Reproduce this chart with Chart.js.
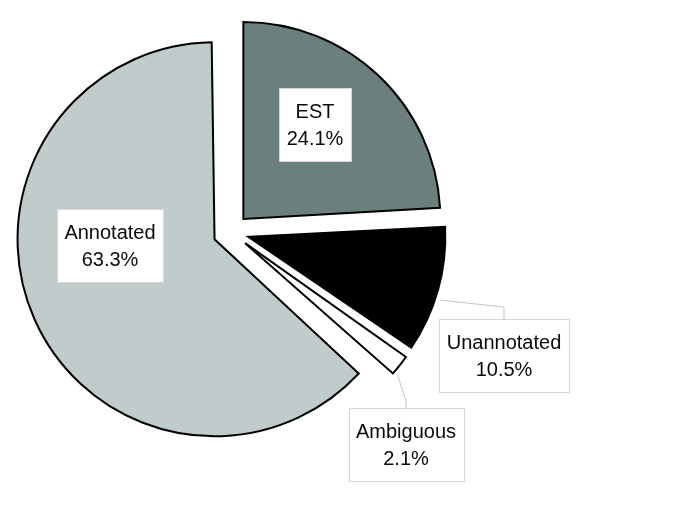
<!DOCTYPE html>
<html>
<head>
<meta charset="utf-8">
<script src="https://cdn.jsdelivr.net/npm/chart.js@4.4.1/dist/chart.umd.min.js"></script>
<style>
  html, body { margin: 0; padding: 0; background: #fff; }
  canvas { display: block; }
</style>
</head>
<body>
<canvas id="pie" width="685" height="524"></canvas>
<script>
// ── Data ───────────────────────────────────────────────────────
const categories = ['EST', 'Unannotated', 'Ambiguous', 'Annotated'];
const shares = [24.1, 10.5, 2.1, 63.3];
const sliceColors = ['#6b7f7f', '#000000', '#ffffff', '#c0cccc'];

// label box centre relative to pie centre (px) + leader elbow gap
const labelSpots = [[84, -108], [273, 123], [175, 212], [-121, 13]];
const leaderGap = [0, 12, 7, 0];

const PIE_R = 197;
const EXPLODE = 72;   // chart.js moves a slice by offset / 4
const LEADER_TURN = 0.045;  // leader starts a little past the bisector


// ── Keep every slice the same radius once exploded ─────────────
// (chart.js grows narrow exploded slices; undo that here)
const evenRadius = {
  id: 'evenRadius',
  afterDatasetsUpdate(chart) {
    chart.getDatasetMeta(0).data.forEach(arc => {
      const fix = 1 - Math.sin(Math.min(Math.PI, arc.circumference));
      arc.outerRadius = PIE_R - (EXPLODE / 4) * fix;
    });
  }
};


// ── Boxed labels with leader lines ─────────────────────────────
const labelBoxes = {
  id: 'labelBoxes',
  afterDatasetsDraw(chart) {
    const ctx = chart.ctx;
    const arcs = chart.getDatasetMeta(0).data;
    const total = shares.reduce((a, b) => a + b, 0);

    ctx.save();
    ctx.font = '20px "Liberation Sans", Arial, sans-serif';
    arcs.forEach((arc, i) => {
      const cx = arc.x + labelSpots[i][0];
      const cy = arc.y + labelSpots[i][1];
      const lines = [categories[i], (shares[i] / total * 100).toFixed(1) + '%'];
      const w = Math.round(Math.max(...lines.map(t => ctx.measureText(t).width)) + 15);
      const h = 73;
      const left = Math.round(cx - w / 2);
      const top = Math.round(cy - h / 2);

      if (leaderGap[i]) {
        const mid = (arc.startAngle + arc.endAngle) / 2;
        const shift = EXPLODE / 4;
        const ox = arc.x + Math.cos(mid) * shift;
        const oy = arc.y + Math.sin(mid) * shift;
        const a = mid + LEADER_TURN;
        ctx.beginPath();
        ctx.moveTo(ox + Math.cos(a) * (PIE_R + 5), oy + Math.sin(a) * (PIE_R + 5));
        ctx.lineTo(cx, top - leaderGap[i]);
        ctx.lineTo(cx, top);
        ctx.strokeStyle = '#c4c4c4';
        ctx.lineWidth = 1;
        ctx.stroke();
      }

      ctx.fillStyle = '#ffffff';
      ctx.fillRect(left, top, w, h);
      ctx.strokeStyle = '#d6d6d6';
      ctx.lineWidth = 1;
      ctx.strokeRect(left + 0.5, top + 0.5, w, h);

      ctx.fillStyle = '#0a0a0a';
      ctx.textAlign = 'center';
      ctx.textBaseline = 'alphabetic';
      ctx.fillText(lines[0], cx, cy - 6.5);
      ctx.fillText(lines[1], cx, cy + 21.2);
    });
    ctx.restore();
  }
};


// ── Chart ──────────────────────────────────────────────────────
new Chart(document.getElementById('pie').getContext('2d'), {
  type: 'pie',
  data: {
    labels: categories,
    datasets: [{
      data: shares,
      backgroundColor: sliceColors,
      borderColor: '#000000',
      borderWidth: 2,
      borderJoinStyle: 'miter',
      offset: EXPLODE,
      hoverOffset: EXPLODE,
    }]
  },
  options: {
    responsive: false,
    animation: false,
    events: [],
    radius: PIE_R,
    layout: { padding: { left: 0, right: 223, top: 0, bottom: 60 } },
    plugins: {
      legend: { display: false },
      tooltip: { enabled: false },
    }
  },
  plugins: [evenRadius, labelBoxes]
});
</script>
</body>
</html>
